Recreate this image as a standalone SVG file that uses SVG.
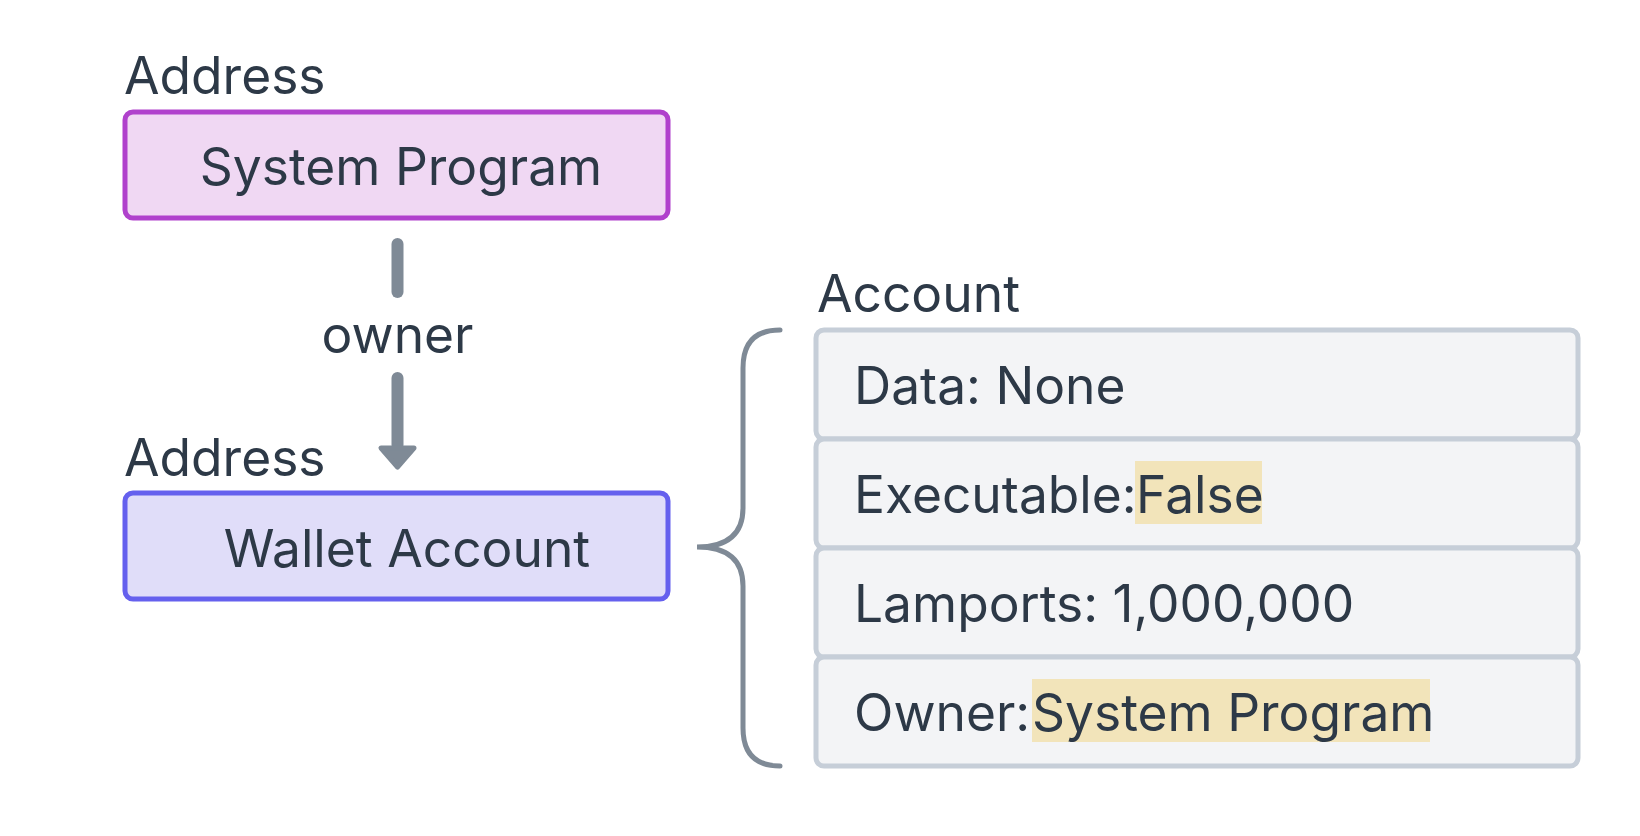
<svg xmlns="http://www.w3.org/2000/svg" width="1640" height="836" viewBox="0 0 1640 836">
<style>
  text { font-family: Inter, "Noto Sans", "Liberation Sans", sans-serif; font-size: 51.5px; fill: #2d3947; }
  .mid { text-anchor: middle; }
  .sys { fill: #f0d8f3; stroke: #b041cc; stroke-width: 5; }
  .wal { fill: #e0ddf9; stroke: #6560ee; stroke-width: 5; }
  .row { fill: #f3f4f6; stroke: #c6ced8; stroke-width: 5; }
  .hl { fill: #f2e4ba; }
  .conn { stroke: #7f8a96; stroke-width: 12; stroke-linecap: round; fill: none; }
  .head { fill: #7f8a96; stroke: #7f8a96; stroke-width: 5; stroke-linejoin: round; }
  .brace { stroke: #7f8a96; stroke-width: 5; fill: none; stroke-linecap: round; }
</style>
<rect width="1640" height="836" fill="#ffffff"/>

<g id="system-program">
  <text x="124" y="94">Address</text>
  <rect class="sys" x="125" y="112" width="543" height="106" rx="8"/>
  <text class="mid" x="401" y="185">System Program</text>
</g>

<g id="wallet-account">
  <text x="124" y="476">Address</text>
  <rect class="wal" x="125" y="493" width="543" height="106" rx="8"/>
  <text class="mid" x="407" y="567">Wallet Account</text>
</g>

<g id="connectors">
  <line class="conn" x1="397.5" y1="244" x2="397.5" y2="292"/>
  <text class="mid" x="397.5" y="353">owner</text>
  <line class="conn" x1="397.5" y1="378" x2="397.5" y2="445"/>
  <polygon class="head" points="381,448 414,448 397.5,467"/>
  <path class="brace" d="M 780 330 C 755 330 743 343 743 368 L 743 508 C 743 534 728 547 697 547 C 728 547 743 560 743 586 L 743 728 C 743 753 755 766 780 766"/>
</g>

<g id="account">
  <text x="817" y="312">Account</text>
  <g id="row-data">
    <rect class="row" x="816" y="330" width="762" height="109" rx="8"/>
    <text x="854" y="404">Data: None</text>
  </g>
  <g id="row-executable">
    <rect class="row" x="816" y="439" width="762" height="109" rx="8"/>
    <rect class="hl" x="1135" y="461" width="127" height="63"/>
    <text x="854" y="513">Executable:</text>
    <text x="1136" y="513">False</text>
  </g>
  <g id="row-lamports">
    <rect class="row" x="816" y="548" width="762" height="109" rx="8"/>
    <text x="854" y="622">Lamports: 1,000,000</text>
  </g>
  <g id="row-owner">
    <rect class="row" x="816" y="657" width="762" height="109" rx="8"/>
    <rect class="hl" x="1032" y="679" width="398" height="63"/>
    <text x="854" y="731">Owner:</text>
    <text x="1032" y="731">System Program</text>
  </g>
</g>
</svg>
